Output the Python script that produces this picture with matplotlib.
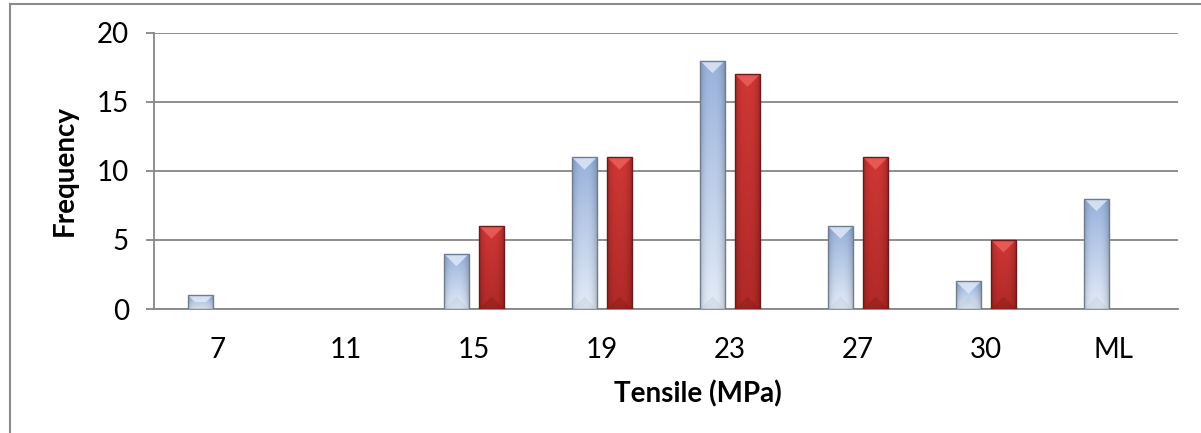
import numpy as np
import matplotlib
matplotlib.use("Agg")
import matplotlib.pyplot as plt
from matplotlib.patches import Polygon
from matplotlib.lines import Line2D
from matplotlib.colors import to_rgb

categories = ["7", "11", "15", "19", "23", "27", "30", "ML"]
blue_values = [1, 0, 4, 11, 18, 6, 2, 8]
red_values = [0, 0, 6, 11, 17, 11, 5, 0]
y_ticks = [0, 5, 10, 15, 20]

plt.rcParams['font.family'] = ['Lato', 'DejaVu Sans']

W, H = 1201, 433
fig = plt.figure(figsize=(W / 100, H / 100), dpi=100)
ax = fig.add_axes([154 / W, 124 / H, (1178 - 154) / W, (309 - 33) / H])

ax.set_xlim(-0.5, len(categories) - 0.5)
ax.set_ylim(0, 20)

grid_c = '#868686'
ax.set_yticks(y_ticks)
ax.yaxis.grid(True, color=grid_c, lw=1.3)
ax.set_axisbelow(True)
for s in ['top', 'right']:
    ax.spines[s].set_visible(False)
ax.spines['left'].set_color(grid_c)
ax.spines['left'].set_linewidth(1.3)
ax.spines['bottom'].set_color(grid_c)
ax.spines['bottom'].set_linewidth(1.3)
ax.tick_params(axis='y', length=6, width=1.3, color=grid_c, pad=12, labelsize=20)
ax.tick_params(axis='x', length=0, pad=20, labelsize=20)
ax.set_xticks(range(len(categories)))
ax.set_xticklabels(categories)

px_x = (1178 - 154) / len(categories)  # pixels per x unit
px_y = (309 - 33) / 20.0                # pixels per y unit

bw = 0.195
off = 0.137

def bevel_bar(xc, h, top_c, bot_c, edge_c, light_c, dark_c, edge_dark):
    if h <= 0:
        return
    rect = ax.bar([xc], [h], width=bw, color='none', edgecolor=edge_c, lw=1.0, zorder=4)[0]
    x0, x1 = xc - bw / 2, xc + bw / 2
    ny, nx = 60, 30
    t = np.linspace(0, 1, ny)[:, None, None]
    u = np.linspace(-1, 1, nx)[None, :, None]
    top = np.array(to_rgb(top_c))[None, None, :]
    bot = np.array(to_rgb(bot_c))[None, None, :]
    img = top + (bot - top) * t
    img = img * (1 - edge_dark * np.abs(u) ** 3)
    img = np.clip(img, 0, 1)
    im = ax.imshow(img, extent=(x0, x1, 0, h), origin='upper', aspect='auto',
                   zorder=3, interpolation='bilinear')
    im.set_clip_path(rect)
    half_w_px = bw * px_x / 2
    d_px = min(half_w_px, h * px_y / 2)
    dx = d_px / px_x
    dy = d_px / px_y
    topbev = Polygon([(x0, h), (x1, h), (x1 - dx, h - dy), (x0 + dx, h - dy)],
                     closed=True, facecolor=light_c, edgecolor='none', alpha=0.75, zorder=3.5)
    botbev = Polygon([(x0, 0), (x1, 0), (x1 - dx, dy), (x0 + dx, dy)],
                     closed=True, facecolor=dark_c, edgecolor='none', alpha=0.3, zorder=3.5)
    ax.add_patch(topbev)
    ax.add_patch(botbev)

for i, (b, r) in enumerate(zip(blue_values, red_values)):
    bevel_bar(i - off, b, '#98b2dc', '#e3ebf7', '#6f7d92', '#e6effb', '#b8c2d0', 0.18)
    bevel_bar(i + off, r, '#cf3735', '#b02a28', '#6e1a18', '#f06460', '#7a1414', 0.22)

ax.set_xlim(-0.5, len(categories) - 0.5)
ax.set_ylim(0, 20)

fig.text(65 / W, 1 - 171 / H, 'Frequency', rotation=90, ha='center', va='center',
         fontsize=20, fontweight='bold')
fig.text(698 / W, 1 - 394 / H, 'Tensile (MPa)', ha='center', va='center',
         fontsize=20, fontweight='bold')

frame_c = '#8c8c8c'
fig.add_artist(Line2D([9.5 / W, 9.5 / W], [0, 1 - 3.5 / H], color=frame_c, lw=1.5,
                      transform=fig.transFigure))
fig.add_artist(Line2D([9.5 / W, 1], [1 - 3.5 / H, 1 - 3.5 / H], color=frame_c, lw=1.5,
                      transform=fig.transFigure))

fig.savefig('out.png', dpi=100)
